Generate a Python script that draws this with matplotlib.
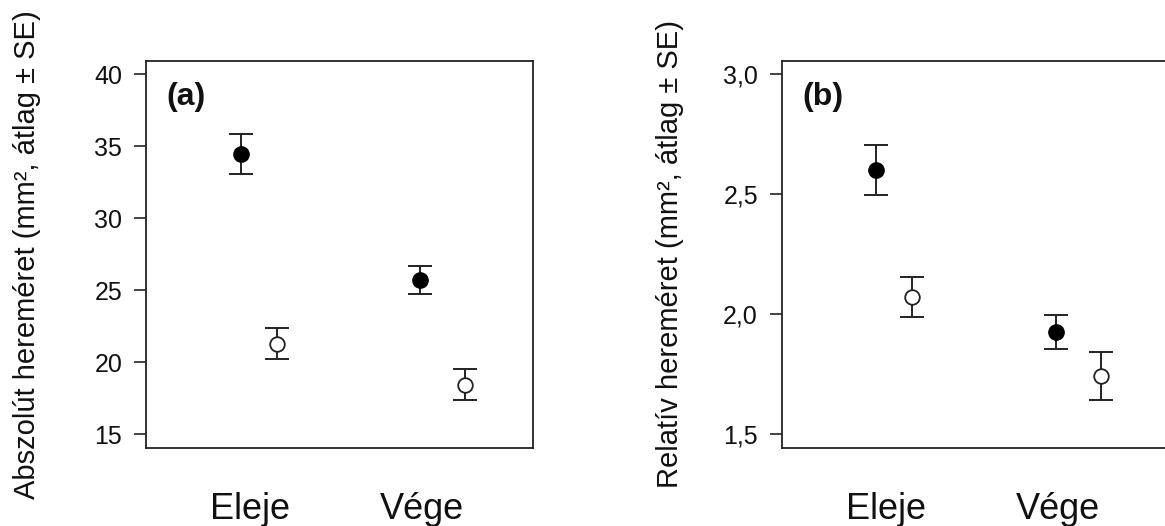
#coding=utf-8

import numpy as np
import matplotlib
matplotlib.use("Agg")
import matplotlib.pyplot as plt

plt.rcParams['font.family'] = ['Liberation Sans', 'DejaVu Sans']

# categories
groups = [u"Eleje", u"Vége"]

# (a) absolute size, mean and SE
abs_filled = [34.45, 25.72]
abs_filled_se = [1.38, 0.98]
abs_open = [21.28, 18.42]
abs_open_se = [1.08, 1.08]
abs_ticks = [15, 20, 25, 30, 35, 40]
abs_ticklabels = ["15", "20", "25", "30", "35", "40"]

# (b) relative size, mean and SE
rel_filled = [2.601, 1.925]
rel_filled_se = [0.104, 0.072]
rel_open = [2.071, 1.743]
rel_open_se = [0.084, 0.099]
rel_ticks = [1.5, 2.0, 2.5, 3.0]
rel_ticklabels = ["1,5", "2,0", "2,5", "3,0"]

# x positions of the points (group 1 and 2, shifted apart)
x_filled = [0.946, 1.990]
x_open = [1.155, 2.252]

W, H = 1165, 526
LINE = "#222222"


def px_axes(fig, left, top, right, bottom):
    """axes from pixel box"""
    return fig.add_axes([left / W, (H - bottom) / H, (right - left) / W, (bottom - top) / H])


def panel(ax, filled, filled_se, opened, opened_se, ticks, ticklabels, ylim, ylabel, tag, labelx):
    ax.errorbar(x_filled, filled, yerr=filled_se, fmt='none', ecolor=LINE,
                elinewidth=1.4, capsize=8.4, capthick=1.4, zorder=2)
    ax.errorbar(x_open, opened, yerr=opened_se, fmt='none', ecolor=LINE,
                elinewidth=1.4, capsize=8.4, capthick=1.4, zorder=2)
    ax.plot(x_filled, filled, 'o', ms=11, mfc='black', mec='black', mew=1.0,
            linestyle='none', zorder=3)
    ax.plot(x_open, opened, 'o', ms=10.5, mfc='white', mec=LINE, mew=1.3,
            linestyle='none', zorder=3)

    ax.set_xlim(0.394, 2.648)
    ax.set_ylim(ylim)
    ax.set_yticks(ticks)
    ax.set_yticklabels(ticklabels)
    ax.set_xticks([1, 2])
    ax.set_xticklabels(groups, fontsize=26, color='#111111')
    ax.tick_params(axis='x', length=0, pad=32)
    ax.tick_params(axis='y', length=8.6, width=1.2, pad=8.5, labelsize=18,
                   color=LINE, labelcolor='#111111')
    for s in ax.spines.values():
        s.set_linewidth(1.3)
        s.set_color(LINE)

    ax.set_ylabel(ylabel, fontsize=21, color='#111111')
    ax.yaxis.set_label_coords(labelx, 0.5)
    ax.text(0.0535, 0.9066, tag, transform=ax.transAxes, fontsize=23,
            fontweight='bold', ha='left', va='center', color='#111111')


fig = plt.figure(figsize=(W / 100.0, H / 100.0), dpi=100)

ax1 = px_axes(fig, 146, 60.5, 533, 448)
panel(ax1, abs_filled, abs_filled_se, abs_open, abs_open_se, abs_ticks,
      abs_ticklabels, (14.03, 40.97),
      u"Abszolút hereméret (mm², átlag ± SE)", "(a)", -0.271)

ax2 = px_axes(fig, 781.7, 60.5, 1168.7, 448)
panel(ax2, rel_filled, rel_filled_se, rel_open, rel_open_se, rel_ticks,
      rel_ticklabels, (1.442, 3.057),
      u"Relatív hereméret (mm², átlag ± SE)", "(b)", -0.252)

fig.savefig("out.png", dpi=100)
